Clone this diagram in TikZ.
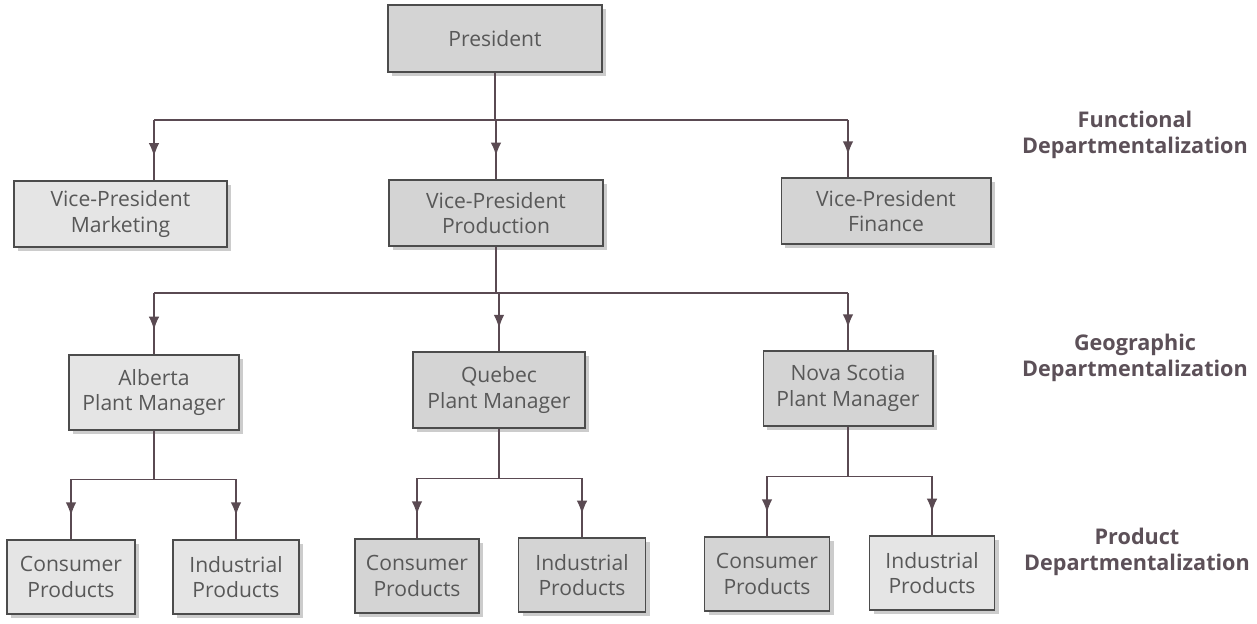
\documentclass[tikz,border=0pt]{standalone}
\usepackage{fontspec}
\setmainfont{Open Sans}
\usetikzlibrary{positioning,calc,arrows.meta,shadows,decorations.markings}

\definecolor{boxdark}{HTML}{D4D4D4}
\definecolor{boxlight}{HTML}{E5E5E5}
\definecolor{ink}{HTML}{585858}
\definecolor{wire}{HTML}{5A4A52}
\definecolor{tagink}{HTML}{5C5058}

\begin{document}
\begin{tikzpicture}[x=0.02cm, y=-0.02cm,
	unit/.style={rectangle, draw=gray!60!black, line width=0.6pt, fill=boxdark, text=ink, align=center, inner sep=0pt,
		font=\fontsize{12}{14.7}\selectfont,
		drop shadow={shadow xshift=2.5pt, shadow yshift=-2.5pt, fill=black, opacity=0.2}},
	pale/.style={unit, fill=boxlight},
	link/.style={draw=wire, line width=0.8pt},
	feed/.style={link, postaction={decorate}, decoration={markings, mark=at position 0.6 with {\arrow[wire]{Latex[length=7.5pt, width=6pt]}}}},
	tag/.style={align=center, text=tagink, font=\bfseries\fontsize{12.3}{14.6}\selectfont}
	]
		\fill[white] (0,0) rectangle (1257,623);
		\useasboundingbox (0,0) rectangle (1257,623);

		% top and functional level
		\node[unit, minimum width=4.28cm, minimum height=1.34cm] (pres) at (495,38.5) {President};
		\node[pale, minimum width=4.26cm, minimum height=1.32cm] (vpm) at (120.5,214) {Vice-President\\Marketing};
		\node[unit, minimum width=4.28cm, minimum height=1.32cm] (vpp) at (496,213) {Vice-President\\Production};
		\node[unit, minimum width=4.2cm, minimum height=1.32cm] (vpf) at (886,211) {Vice-President\\Finance};

		% geographic level
		\node[pale, minimum width=3.4cm, minimum height=1.5cm] (alb) at (154,392.5) {Alberta\\Plant Manager};
		\node[unit, minimum width=3.44cm, minimum height=1.52cm] (que) at (499,390) {Quebec\\Plant Manager};
		\node[unit, minimum width=3.4cm, minimum height=1.5cm] (nsc) at (848,388.5) {Nova Scotia\\Plant Manager};

		% product level
		\node[pale, minimum width=2.56cm, minimum height=1.48cm] (albc) at (71,577) {Consumer\\Products};
		\node[pale, minimum width=2.52cm, minimum height=1.48cm] (albi) at (236,577) {Industrial\\Products};
		\node[unit, minimum width=2.48cm, minimum height=1.48cm] (quec) at (417,576) {Consumer\\Products};
		\node[unit, minimum width=2.54cm, minimum height=1.48cm] (quei) at (582,575) {Industrial\\Products};
		\node[unit, minimum width=2.5cm, minimum height=1.48cm] (nscc) at (767,574) {Consumer\\Products};
		\node[pale, minimum width=2.5cm, minimum height=1.48cm] (nsci) at (932,573) {Industrial\\Products};

		% level tags
		\node[tag] (fun) at (1135,135) {Functional\\Departmentalization};
		\node[tag] (geo) at (1135,358) {Geographic\\Departmentalization};
		\node[tag] (prd) at (1137,552) {Product\\Departmentalization};

		% connectors
		\coordinate (bus1) at (0,120);
		\coordinate (bus2) at (0,293);
		\draw[link] (pres.south) -- (pres.south |- bus1);
		\draw[link] (bus1 -| alb) -- (bus1 -| nsc);
		\draw[feed] (bus1 -| alb) -- (vpm.north -| alb);
		\draw[feed] (bus1 -| vpp) -- (vpp.north);
		\draw[feed] (bus1 -| nsc) -- (vpf.north -| nsc);

		\draw[link] (vpp.south) -- (vpp.south |- bus2);
		\draw[link] (bus2 -| alb) -- (bus2 -| nsc);
		\foreach \n in {alb,que,nsc}
			\draw[feed] (bus2 -| \n) -- (\n.north);

		\foreach \p/\c/\i in {alb/albc/albi, que/quec/quei, nsc/nscc/nsci} {
			\coordinate (j) at ($(\p.south |- \c.north)+(0,-60)$);
			\draw[link] (\p.south) -- (j);
			\draw[link] (j -| \c) -- (j -| \i);
			\draw[feed] (j -| \c) -- (\c.north);
			\draw[feed] (j -| \i) -- (\i.north);
		}
	\end{tikzpicture}
\end{document}
